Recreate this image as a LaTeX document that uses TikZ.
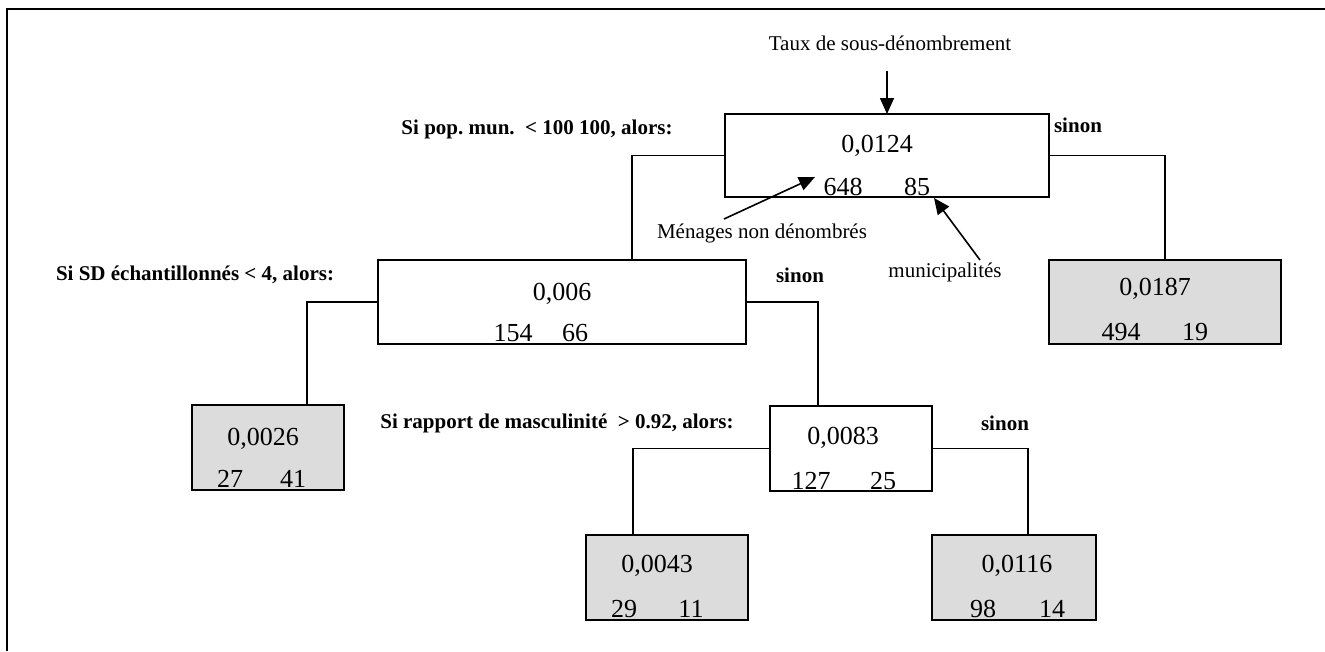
\documentclass[tikz,border=0pt]{standalone}
\usepackage{fontspec}
\setmainfont{Liberation Serif}
\usetikzlibrary{arrows.meta}
\frenchspacing
\begin{document}
\begin{tikzpicture}[x=1pt,y=-1pt,
  box/.style={draw=black, line width=1.8pt, inner sep=0pt, outer sep=0pt},
  leaf/.style={box, fill=boxgray},
  num/.style={font=\fontsize{26}{30}\selectfont, inner sep=0pt, anchor=base},
  lbl/.style={font=\fontsize{21}{25}\selectfont, inner sep=0pt},
  cond/.style={font=\fontsize{21}{25}\selectfont\bfseries, inner sep=0pt},
  conn/.style={line width=1.6pt},
  arr/.style={line width=1.6pt, -{Triangle[length=16pt,width=14pt]}}]
\definecolor{boxgray}{RGB}{220,220,220}
\useasboundingbox (0,0) rectangle (1325,651);
% frame
\draw[line width=2.6pt] (7,651) -- (7,9) -- (1325,9);
% boxes
\node[box, minimum width=324pt, minimum height=83pt] (root) at (887,155.5) {};
\node[box, minimum width=368pt, minimum height=84pt] (sd) at (562,302) {};
\node[leaf, minimum width=232pt, minimum height=84pt] (g) at (1165,302) {};
\node[leaf, minimum width=152pt, minimum height=85pt] (c) at (268,447.5) {};
\node[box, minimum width=162pt, minimum height=85pt] (d) at (851,448.5) {};
\node[leaf, minimum width=162pt, minimum height=85pt] (e) at (667,577.5) {};
\node[leaf, minimum width=164pt, minimum height=85pt] (f) at (1014,577.5) {};
% numbers
\node[num] (r1) at (877,152) {0,0124};
\node[num] (r2) at (843,195) {648};
\node[num] (r3) at (917,195) {85};
\node[num] (s1) at (562,300) {0,006};
\node[num] (s2) at (513,341) {154};
\node[num] (s3) at (575,341) {66};
\node[num] (g1) at (1155,295) {0,0187};
\node[num] (g2) at (1121,340) {494};
\node[num] (g3) at (1195,340) {19};
\node[num] (c1) at (263,445) {0,0026};
\node[num] (c2) at (230,487) {27};
\node[num] (c3) at (293,487) {41};
\node[num] (d1) at (843,444) {0,0083};
\node[num] (d2) at (811,489) {127};
\node[num] (d3) at (883,489) {25};
\node[num] (e1) at (657,572) {0,0043};
\node[num] (e2) at (624,617) {29};
\node[num] (e3) at (691,617) {11};
\node[num] (f1) at (1017,572) {0,0116};
\node[num] (f2) at (983,617) {98};
\node[num] (f3) at (1052,617) {14};
% labels
\node[lbl] (taux) at (890,43) {Taux de sous-dénombrement};
\node[lbl] (men) at (762,233) {Ménages non dénombrés};
\node[lbl] (mun) at (945,272) {municipalités};
\node[cond] (q1) at (537,129) {Si pop. mun.~ < 100 100, alors:};
\node[cond] (n1) at (1078,125) {sinon};
\node[cond] (q2) at (195,275) {Si SD échantillonnés < 4, alors:};
\node[cond] (n2) at (800,275) {sinon};
\node[cond] (q3) at (557,423) {Si rapport de masculinité~ > 0.92, alors:};
\node[cond] (n3) at (1005,423) {sinon};
% connectors
\draw[conn] (root.west) -| ([xshift=70pt]sd.north);
\draw[conn] (root.east) -| (g.north);
\draw[conn] (sd.west) -| ([xshift=39pt]c.north);
\draw[conn] (sd.east) -| ([xshift=-33pt]d.north);
\draw[conn] (d.west) -| ([xshift=-34pt]e.north);
\draw[conn] (d.east) -| ([xshift=14pt]f.north);
% arrows
\coordinate (tauxend) at (887,71);
\coordinate (menend) at (724,219);
\coordinate (menhead) at (815,177);
\coordinate (munend) at (980,260);
\coordinate (munhead) at (934,198);
\draw[arr] (tauxend) -- (root.north);
\draw[arr] (menend) -- (menhead);
\draw[arr] (munend) -- (munhead);
\end{tikzpicture}
\end{document}
